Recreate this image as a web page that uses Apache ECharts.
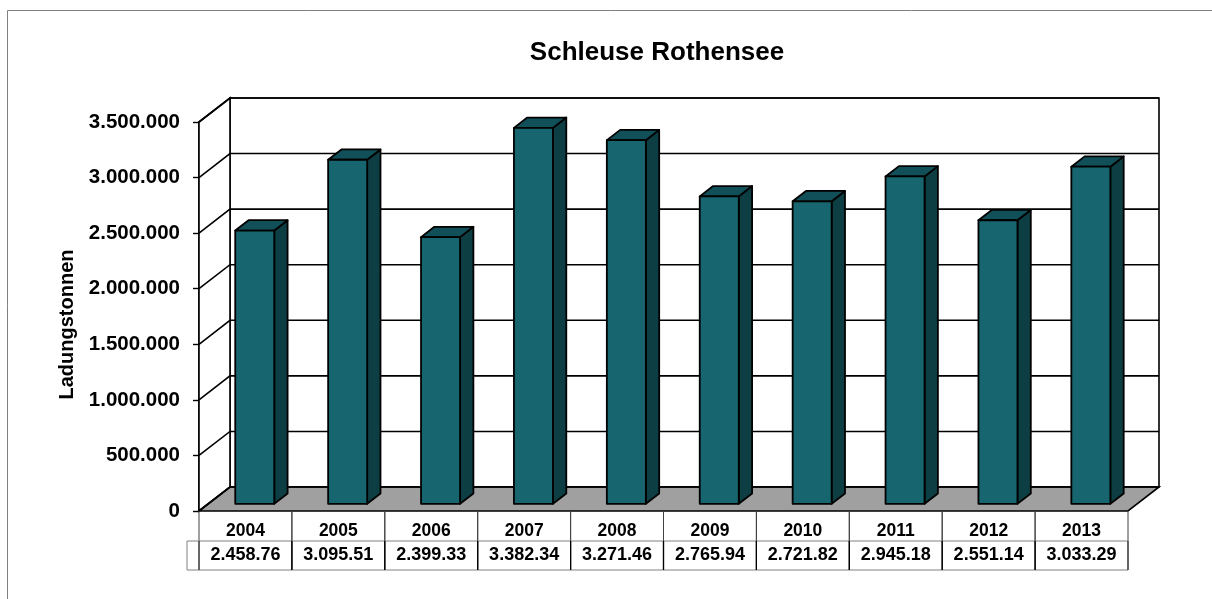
<!DOCTYPE html>
<html>
<head>
<meta charset="utf-8">
<script src="https://cdn.jsdelivr.net/npm/echarts@6/dist/echarts.min.js"></script>
<style>
  html, body { margin: 0; padding: 0; background: #fff; }
  #chart { width: 1212px; height: 599px; }
</style>
</head>
<body>
<div id="chart"></div>
<script>
// ---- data ----
const categories = ['2004', '2005', '2006', '2007', '2008', '2009', '2010', '2011', '2012', '2013'];
const values = [2458760, 3095510, 2399330, 3382340, 3271460, 2765940, 2721820, 2945180, 2551140, 3033290];
const tableLabels = ['2.458.76', '3.095.51', '2.399.33', '3.382.34', '3.271.46', '2.765.94', '2.721.82', '2.945.18', '2.551.14', '3.033.29'];
const yTicks = [0, 500000, 1000000, 1500000, 2000000, 2500000, 3000000, 3500000];
const chartTitle = 'Schleuse Rothensee';
const yAxisTitle = 'Ladungstonnen';

// ---- styling constants ----
const DX = 31, DY = -24;            // depth vector of the 3D box
const T_FRONT = 0.30, T_BACK = 0.73; // bar depth position
const BAR_W = 0.42;                  // bar width as fraction of category band
const FONT = '"Liberation Sans", Arial, sans-serif';
const C_FRONT = '#17656e', C_SIDE = '#0c3e44', C_TOP = '#115058';

function fmt(v) { return String(v).replace(/\B(?=(\d{3})+(?!\d))/g, '.'); }

const chart = echarts.init(document.getElementById('chart'), null, { renderer: 'canvas' });

const option = {
  backgroundColor: '#ffffff',
  animation: false,
  title: {
    text: chartTitle,
    left: 652, top: 35, textAlign: 'center',
    textStyle: { fontFamily: FONT, fontSize: 26, fontWeight: 'bold', color: '#000' }
  },
  graphic: [{
    type: 'rect', silent: true, z: -10,
    shape: { x: 7.5, y: 10.5, width: 1230, height: 620 },
    style: { fill: 'none', stroke: '#808080', lineWidth: 1 }
  }],
  grid: { left: 199, right: 84, top: 122, bottom: 88, containLabel: false },
  xAxis: {
    type: 'category', data: categories,
    axisLine: { show: false }, axisTick: { show: false }, axisLabel: { show: false }, splitLine: { show: false }
  },
  yAxis: {
    type: 'value', min: 0, max: 3500000, interval: 500000,
    name: yAxisTitle, nameLocation: 'middle', nameRotate: 90, nameGap: 113,
    nameTextStyle: { fontFamily: FONT, fontSize: 20, fontWeight: 'bold', color: '#000', padding: [0, 16, 0, 0] },
    axisLine: { show: true, lineStyle: { color: '#000', width: 1.6 } },
    axisTick: { show: true, length: 6, lineStyle: { color: '#000', width: 1.4 } },
    axisLabel: { margin: 19, formatter: fmt, fontFamily: FONT, fontSize: 20.5, fontWeight: 'bold', color: '#000' },
    splitLine: { show: false }
  },
  series: [
    {
      // walls and floor
      type: 'custom', z: 1, silent: true,
      data: [[0, 0]],
      renderItem: function (params, api) {
        const cs = params.coordSys;
        const x = cs.x, y = cs.y, w = cs.width, h = cs.height;
        return {
          type: 'group',
          children: [
            { type: 'polygon', shape: { points: [[x + DX, y + DY], [x + w + DX, y + DY], [x + w + DX, y + h + DY], [x + DX, y + h + DY]] },
              style: { fill: '#fff', stroke: '#000', lineWidth: 1.6 } },
            { type: 'polygon', shape: { points: [[x, y], [x + DX, y + DY], [x + DX, y + h + DY], [x, y + h]] },
              style: { fill: '#fff', stroke: '#000', lineWidth: 1.6 } },
            { type: 'polygon', shape: { points: [[x, y + h], [x + DX, y + h + DY], [x + w + DX, y + h + DY], [x + w, y + h]] },
              style: { fill: '#a0a0a0', stroke: '#000', lineWidth: 1.6 } }
          ]
        };
      }
    },
    {
      // gridlines on side and back walls
      type: 'custom', z: 2, silent: true,
      data: yTicks.map(function (v) { return [0, v]; }),
      renderItem: function (params, api) {
        const cs = params.coordSys;
        const py = api.coord([0, api.value(1)])[1];
        return {
          type: 'polyline',
          shape: { points: [[cs.x, py], [cs.x + DX, py + DY], [cs.x + cs.width + DX, py + DY]] },
          style: { fill: 'none', stroke: '#000', lineWidth: 1.6 }
        };
      }
    },
    {
      // 3D bars
      type: 'custom', z: 3, name: yAxisTitle,
      data: values.map(function (v, i) { return [i, v]; }),
      renderItem: function (params, api) {
        const i = api.value(0), v = api.value(1);
        const c0 = api.coord([i, 0]);
        const c1 = api.coord([i, v]);
        const bw = api.size([1, 0])[0] * BAR_W;
        const fdx = DX * T_FRONT, fdy = DY * T_FRONT, bdx = DX * T_BACK, bdy = DY * T_BACK;
        const xl = c0[0] - bw / 2, xr = c0[0] + bw / 2, y0 = c0[1], y1 = c1[1];
        const st = { stroke: '#000', lineWidth: 1.8, lineJoin: 'round' };
        return {
          type: 'group',
          children: [
            { type: 'polygon', shape: { points: [[xr + fdx, y1 + fdy], [xr + bdx, y1 + bdy], [xr + bdx, y0 + bdy], [xr + fdx, y0 + fdy]] },
              style: Object.assign({ fill: C_SIDE }, st) },
            { type: 'polygon', shape: { points: [[xl + fdx, y1 + fdy], [xl + bdx, y1 + bdy], [xr + bdx, y1 + bdy], [xr + fdx, y1 + fdy]] },
              style: Object.assign({ fill: C_TOP }, st) },
            { type: 'polygon', shape: { points: [[xl + fdx, y1 + fdy], [xr + fdx, y1 + fdy], [xr + fdx, y0 + fdy], [xl + fdx, y0 + fdy]] },
              style: Object.assign({ fill: C_FRONT }, st) }
          ]
        };
      }
    },
    {
      // data table below the chart
      type: 'custom', z: 4, silent: true,
      data: categories.map(function (c, i) { return [i, 0]; }),
      renderItem: function (params, api) {
        const i = api.value(0);
        const c0 = api.coord([i, 0]);
        const bw = api.size([1, 0])[0];
        const xl = c0[0] - bw / 2, xr = c0[0] + bw / 2, y0 = c0[1];
        const r1 = y0 + 30, r2 = y0 + 59;
        const children = [
          { type: 'line', shape: { x1: xl, y1: y0, x2: xl, y2: r1 }, style: { stroke: '#404040', lineWidth: 1 } },
          { type: 'line', shape: { x1: xr, y1: y0, x2: xr, y2: r1 }, style: { stroke: '#404040', lineWidth: 1 } },
          { type: 'line', shape: { x1: xl, y1: r1, x2: xr, y2: r1 }, style: { stroke: '#808080', lineWidth: 1 } },
          { type: 'line', shape: { x1: xl, y1: r2, x2: xr, y2: r2 }, style: { stroke: '#808080', lineWidth: 1 } },
          { type: 'line', shape: { x1: xl, y1: r1, x2: xl, y2: r2 }, style: { stroke: '#000', lineWidth: 1.2 } },
          { type: 'line', shape: { x1: xr, y1: r1, x2: xr, y2: r2 }, style: { stroke: '#000', lineWidth: 1.2 } },
          { type: 'text', style: { text: categories[i], x: c0[0], y: y0 + 20, align: 'center', verticalAlign: 'middle',
              font: 'bold 17.5px ' + FONT, fill: '#000' } },
          { type: 'text', style: { text: tableLabels[i], x: c0[0], y: y0 + 44.5, align: 'center', verticalAlign: 'middle',
              font: 'bold 18px ' + FONT, fill: '#000' } }
        ];
        if (i === 0) {
          children.push(
            { type: 'line', shape: { x1: xl - 12, y1: r1, x2: xl, y2: r1 }, style: { stroke: '#808080', lineWidth: 1 } },
            { type: 'line', shape: { x1: xl - 12, y1: r2, x2: xl, y2: r2 }, style: { stroke: '#808080', lineWidth: 1 } },
            { type: 'line', shape: { x1: xl - 12, y1: r1, x2: xl - 12, y2: r2 }, style: { stroke: '#808080', lineWidth: 1 } }
          );
        }
        return { type: 'group', children: children };
      }
    }
  ]
};
chart.setOption(option);
</script>
</body>
</html>
